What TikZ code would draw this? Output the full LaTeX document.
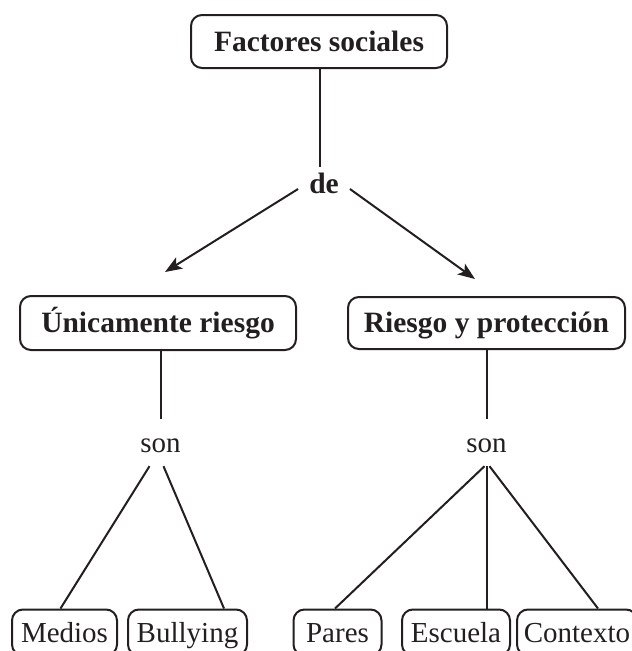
\documentclass[tikz,border=0pt]{standalone}
\usepackage{fontspec}
\setmainfont{Liberation Serif}
\usetikzlibrary{arrows.meta,calc}
\definecolor{ink}{RGB}{35,31,32}
\begin{document}
\begin{tikzpicture}[x=1pt,y=-1pt,
  every node/.style={text=ink},
  box/.style={draw=ink, line width=2pt, rounded corners=11pt, inner sep=0pt,
    font=\fontsize{29.5}{34}\selectfont\bfseries, text height=19pt, text depth=0pt, align=center},
  leaf/.style={draw=ink, line width=2pt, rounded corners=11pt, inner sep=0pt,
    font=\fontsize{29}{34}\selectfont, text height=19pt, text depth=0pt, minimum height=46pt},
  lab/.style={inner xsep=11pt, inner ysep=12pt, text height=14pt, text depth=6pt,
    font=\fontsize{29.5}{34}\selectfont\bfseries},
  son/.style={inner xsep=4pt, inner ysep=8pt, text height=25pt, text depth=6pt,
    font=\fontsize{29}{34}\selectfont},
  conn/.style={draw=ink, line width=2pt},
  arr/.style={conn, -{Stealth[length=17pt,width=13pt,inset=4pt]}}]
\useasboundingbox (0,0) rectangle (632,651);
\clip (0,0) rectangle (632,651);

\node[box, minimum width=256pt, minimum height=53pt] (fs) at (319,41.5) {Factores sociales};
\node[lab] (de) at (324,189) {de};
\node[box, minimum width=276pt, minimum height=54pt] (ur) at (158,323) {Únicamente riesgo};
\node[box, minimum width=277pt, minimum height=52pt] (rp) at (486.5,323) {Riesgo y protección};
\node[son] (son1) at (160.5,442.5) {son};
\node[son] (son2) at (486.5,442.5) {son};

\node[leaf, minimum width=105pt] (med) at (64.5,632.5) {Medios};
\node[leaf, minimum width=119pt] (bul) at (187.5,632.5) {Bullying};
\node[leaf, minimum width=88pt] (par) at (337.5,632.5) {Pares};
\node[leaf, minimum width=108pt] (esc) at (456,632.5) {Escuela};
\node[leaf, minimum width=120pt] (ctx) at (577,632.5) {Contexto};

\coordinate (tipL) at (165,272);
\coordinate (tipR) at (475,279);

\draw[conn] (de.north -| fs.south) ++(1,0) -- ($(fs.south)+(1,0)$);
\draw[arr] (de.west) -- (tipL);
\draw[arr] (de.east) -- (tipR);

\draw[conn] (son1.north |- ur.south) -- (son1.north);
\draw[conn] (son2.north |- rp.south) -- (son2.north);

\draw[conn] (son1.south) ++(-11,0) -- ($(med.north)+(-4,0)$);
\draw[conn] (son1.south) ++(3,0) -- ($(bul.north)+(36.5,0)$);
\draw[conn] (son2.south) ++(-2,0) -- ($(par.north)+(-2.5,0)$);
\draw[conn] (son2.south) -- (son2.south |- esc.north);
\draw[conn] (son2.south) ++(3,0) -- ($(ctx.north)+(21,0)$);
\end{tikzpicture}
\end{document}
